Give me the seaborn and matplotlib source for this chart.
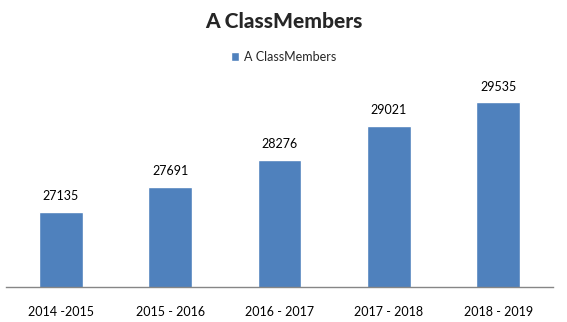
import matplotlib
matplotlib.use("Agg")
import matplotlib.pyplot as plt
import seaborn as sns
import pandas as pd

categories = ["2014 -2015", "2015 - 2016", "2016 - 2017", "2017 - 2018", "2018 - 2019"]
values = [27135, 27691, 28276, 29021, 29535]
series_name = "A ClassMembers"

sns.set_style("white")
plt.rcParams["font.family"] = ["Lato", "DejaVu Sans"]

df = pd.DataFrame({"period": categories, "members": values})

fig = plt.figure(figsize=(5.67, 3.22), dpi=100)
ax = fig.add_axes([6/567, 1 - 287/322, 547/567, 206/322])

sns.barplot(data=df, x="period", y="members", color="#4F81BD", width=0.4,
            saturation=1, ax=ax, label=series_name)
ax.set_ylim(25500, 30000)
ax.set_xlim(-0.5, len(categories) - 0.5)

for i, v in enumerate(values):
    ax.annotate(str(v), (i, v), xytext=(0, 7), textcoords="offset points",
                ha="center", va="bottom", fontsize=9, color="black")

ax.set_xlabel("")
ax.set_ylabel("")
ax.set_yticks([])
ax.tick_params(axis="x", length=0, pad=14, labelsize=9, colors="black")
for s in ["top", "right", "left"]:
    ax.spines[s].set_visible(False)
ax.spines["bottom"].set_color("#868686")
ax.spines["bottom"].set_linewidth(1)

fig.suptitle(series_name, fontsize=15, fontweight="black", y=1 - 21/322, va="center")
leg = ax.legend(loc="center", bbox_to_anchor=(0.5, 1 - 57/322), bbox_transform=fig.transFigure,
                frameon=False, fontsize=9, handlelength=0.7, handleheight=0.7, handletextpad=0.4)

fig.savefig("out.png", dpi=100)
